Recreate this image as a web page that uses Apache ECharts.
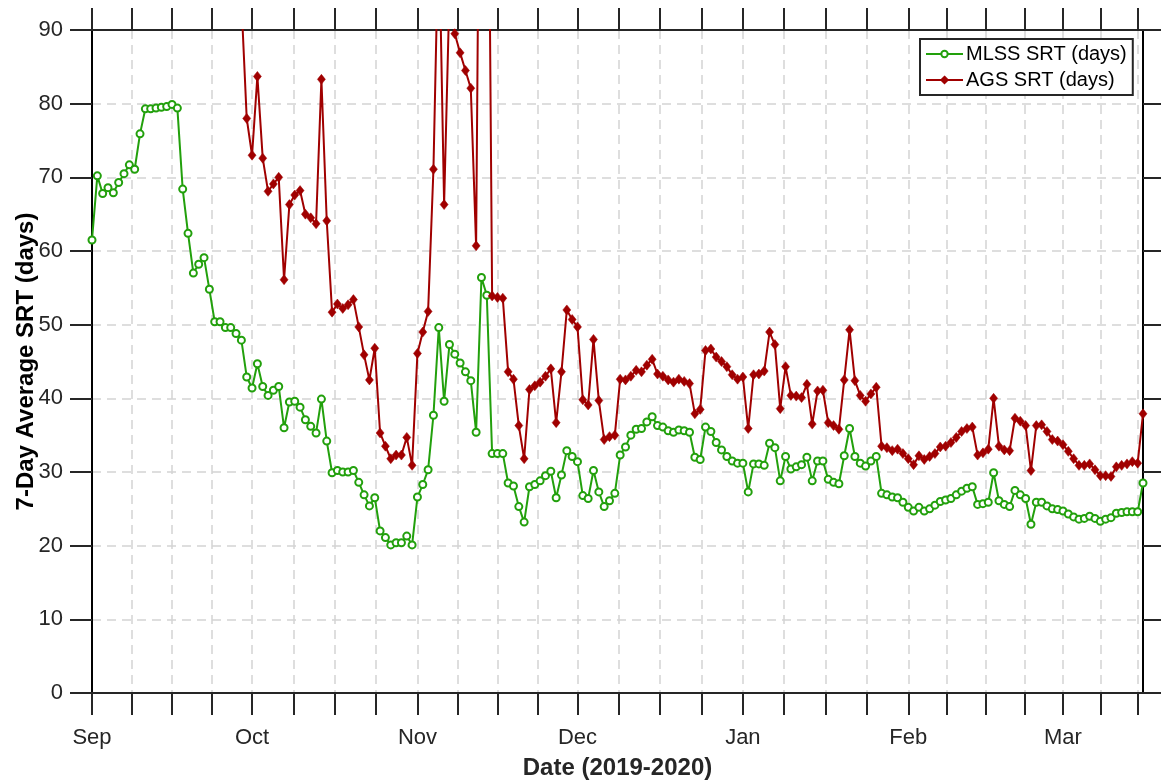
<!DOCTYPE html>
<html>
<head>
<meta charset="utf-8">
<script src="https://cdn.jsdelivr.net/npm/echarts@6/dist/echarts.min.js"></script>
<style>
html,body{margin:0;padding:0;background:#fff;}
#chart{width:1161px;height:782px;}
</style>
</head>
<body>
<div id="chart"></div>
<script>
// Day offsets are counted from 1 Sep 2019
const startDate = '2019-09-01';

// 7-day average MLSS SRT (days), one value per day from day 0 (1 Sep 2019)
const mlssSRT = [
  61.5, 70.2, 67.8, 68.6, 67.9, 69.3, 70.5, 71.7, 71.1, 75.9,
  79.3, 79.3, 79.4, 79.5, 79.6, 79.9, 79.4, 68.4, 62.4, 57.0,
  58.2, 59.1, 54.8, 50.4, 50.4, 49.6, 49.6, 48.8, 47.9, 42.9,
  41.4, 44.7, 41.6, 40.4, 41.1, 41.6, 36.0, 39.5, 39.6, 38.8,
  37.1, 36.2, 35.3, 39.9, 34.2, 29.9, 30.2, 30.0, 30.0, 30.2,
  28.6, 26.9, 25.4, 26.5, 22.0, 21.1, 20.1, 20.4, 20.4, 21.3,
  20.1, 26.6, 28.3, 30.3, 37.7, 49.6, 39.6, 47.3, 46.0, 44.8,
  43.6, 42.4, 35.4, 56.4, 54.0, 32.5, 32.5, 32.5, 28.5, 28.1,
  25.3, 23.2, 28.0, 28.3, 28.8, 29.5, 30.1, 26.5, 29.6, 32.9,
  32.1, 31.4, 26.8, 26.4, 30.2, 27.3, 25.3, 26.1, 27.1, 32.3,
  33.4, 35.0, 35.8, 35.9, 36.8, 37.5, 36.3, 36.1, 35.6, 35.4,
  35.7, 35.6, 35.4, 32.0, 31.7, 36.1, 35.5, 34.0, 33.0, 32.1,
  31.5, 31.2, 31.2, 27.3, 31.1, 31.1, 30.9, 33.9, 33.3, 28.8,
  32.1, 30.4, 30.7, 31.0, 32.0, 28.8, 31.5, 31.5, 29.0, 28.6,
  28.4, 32.2, 35.9, 32.1, 31.2, 30.8, 31.5, 32.1, 27.1, 26.9,
  26.6, 26.5, 25.9, 25.2, 24.7, 25.2, 24.7, 25.0, 25.5, 26.0,
  26.2, 26.4, 26.9, 27.4, 27.8, 28.0, 25.6, 25.7, 25.9, 29.9,
  26.1, 25.6, 25.3, 27.5, 26.9, 26.4, 22.9, 25.9, 25.9, 25.4,
  25.0, 24.9, 24.7, 24.3, 23.9, 23.6, 23.7, 24.0, 23.7, 23.3,
  23.6, 23.8, 24.4, 24.5, 24.6, 24.6, 24.6, 28.5
];

// 7-day average AGS SRT (days), one value per day starting at day agsStartDay
const agsStartDay = 28;
const agsSRT = [
  94.0, 78.0, 73.0, 83.7, 72.6, 68.1, 69.1, 70.0, 56.1, 66.3,
  67.6, 68.2, 65.0, 64.5, 63.7, 83.3, 64.1, 51.7, 52.8, 52.2,
  52.7, 53.4, 49.7, 45.9, 42.5, 46.8, 35.3, 33.5, 31.8, 32.3,
  32.3, 34.7, 30.9, 46.1, 49.0, 51.8, 71.1, 105.0, 66.3, 95.0,
  89.5, 86.9, 84.5, 82.1, 60.7, 155.0, 145.0, 53.9, 53.7, 53.6,
  43.6, 42.6, 36.3, 31.8, 41.2, 41.7, 42.2, 43.0, 44.0, 36.7,
  43.6, 52.0, 50.7, 49.7, 39.8, 39.1, 48.0, 39.7, 34.4, 34.8,
  35.0, 42.6, 42.5, 43.0, 43.8, 43.6, 44.5, 45.3, 43.3, 43.0,
  42.5, 42.2, 42.6, 42.3, 42.0, 37.9, 38.5, 46.5, 46.7, 45.6,
  45.0, 44.3, 43.2, 42.6, 42.9, 35.9, 43.2, 43.3, 43.7, 49.0,
  47.3, 38.6, 44.3, 40.4, 40.3, 40.1, 41.9, 36.5, 41.0, 41.1,
  36.7, 36.3, 35.8, 42.5, 49.3, 42.4, 40.4, 39.6, 40.6, 41.5,
  33.5, 33.3, 32.9, 33.1, 32.5, 31.8, 31.0, 32.2, 31.7, 32.1,
  32.5, 33.4, 33.5, 34.0, 34.7, 35.5, 35.9, 36.1, 32.3, 32.6,
  33.1, 40.0, 33.5, 33.0, 32.9, 37.3, 36.9, 36.3, 30.2, 36.3,
  36.4, 35.5, 34.4, 34.2, 33.7, 32.8, 31.8, 30.9, 30.9, 31.1,
  30.3, 29.5, 29.5, 29.4, 30.7, 30.9, 31.1, 31.4, 31.2, 37.9
];

// x axis: day offsets of the month starts (labelled) and of all tick marks
const monthDays = [0, 30, 61, 91, 122, 153, 182];
const monthLabels = ['Sep', 'Oct', 'Nov', 'Dec', 'Jan', 'Feb', 'Mar'];
const tickDays = [0, 7.5, 15, 22.5, 30, 37.75, 45.5, 53.25, 61, 68.5, 76, 83.5,
  91, 98.75, 106.5, 114.25, 122, 129.75, 137.5, 145.25, 153, 160.25, 167.5, 174.75,
  182, 189, 196];
const xMaxDay = 197;

const seriesNames = ['MLSS SRT (days)', 'AGS SRT (days)'];
const xTitle = 'Date (2019-2020)';
const yTitle = '7-Day Average SRT (days)';

const FONT = '"Liberation Sans", Arial, Helvetica, sans-serif';
const GREEN = '#22A00C';
const RED = '#A00000';

const mlssData = mlssSRT.map((v, i) => [i, v]);
const agsData = agsSRT.map((v, i) => [agsStartDay + i, v]);

const chart = echarts.init(document.getElementById('chart'), null, {renderer: 'canvas'});

const gridLine = {show: true, lineStyle: {color: '#d3d3d3', width: 1.5, type: [9, 6]}};
const tickStyle = {show: true, inside: false, length: 22, lineStyle: {color: '#262626', width: 2}};

chart.setOption({
  animation: false,
  backgroundColor: '#ffffff',
  textStyle: {fontFamily: FONT},
  grid: {left: 92, top: 30, width: 1051, height: 663, containLabel: false, outerBoundsMode: 'none'},
  legend: {
    data: seriesNames,
    orient: 'vertical',
    left: 920, top: 39,
    padding: [4, 6, 4, 5],
    itemGap: 4,
    itemWidth: 37,
    itemHeight: 8,
    borderColor: '#262626',
    borderWidth: 2,
    backgroundColor: '#ffffff',
    textStyle: {fontSize: 20, color: '#000000', fontFamily: FONT, lineHeight: 22, padding: [0, 0, 0, -2]}
  },
  xAxis: [
    {
      type: 'value', position: 'bottom', min: 0, max: xMaxDay,
      name: xTitle, nameLocation: 'middle', nameGap: 63, nameMoveOverlap: false,
      nameTextStyle: {fontSize: 24, fontWeight: 'bold', color: '#262626', fontFamily: FONT},
      axisLine: {show: true, onZero: false, lineStyle: {color: '#262626', width: 2}},
      axisTick: Object.assign({customValues: tickDays}, tickStyle),
      axisLabel: {
        customValues: monthDays, margin: 34, fontSize: 22, color: '#262626', fontFamily: FONT,
        formatter: v => monthLabels[monthDays.indexOf(v)]
      },
      splitLine: gridLine
    },
    {
      type: 'value', position: 'top', min: 0, max: xMaxDay,
      axisLine: {show: true, onZero: false, lineStyle: {color: '#262626', width: 2}},
      axisTick: Object.assign({customValues: tickDays}, tickStyle),
      axisLabel: {show: false},
      splitLine: {show: false}
    }
  ],
  yAxis: [
    {
      type: 'value', position: 'left', min: 0, max: 90, interval: 10,
      name: yTitle, nameLocation: 'middle', nameGap: 54, nameMoveOverlap: false,
      nameTextStyle: {fontSize: 24, fontWeight: 'bold', color: '#000000', fontFamily: FONT},
      axisLine: {show: true, onZero: false, lineStyle: {color: '#000000', width: 2}},
      axisTick: tickStyle,
      axisLabel: {margin: 29, fontSize: 22, color: '#262626', fontFamily: FONT},
      splitLine: gridLine
    },
    {
      type: 'value', position: 'right', min: 0, max: 90, interval: 10,
      axisLine: {show: true, onZero: false, lineStyle: {color: '#000000', width: 2}},
      axisTick: tickStyle,
      axisLabel: {show: false},
      splitLine: {show: false}
    }
  ],
  series: [
    {
      name: seriesNames[0], type: 'line', data: mlssData,
      xAxisIndex: 0, yAxisIndex: 0, clip: true, showAllSymbol: true,
      symbol: 'emptyCircle', symbolSize: 7,
      lineStyle: {color: GREEN, width: 2},
      itemStyle: {color: GREEN, borderColor: GREEN, borderWidth: 1.8},
      z: 3
    },
    {
      name: seriesNames[1], type: 'line', data: agsData,
      xAxisIndex: 0, yAxisIndex: 0, clip: true, showAllSymbol: true,
      symbol: 'diamond', symbolSize: [8, 10],
      lineStyle: {color: RED, width: 2},
      itemStyle: {color: RED, borderColor: RED, borderWidth: 0.5},
      z: 4
    }
  ]
});
</script>
</body>
</html>
